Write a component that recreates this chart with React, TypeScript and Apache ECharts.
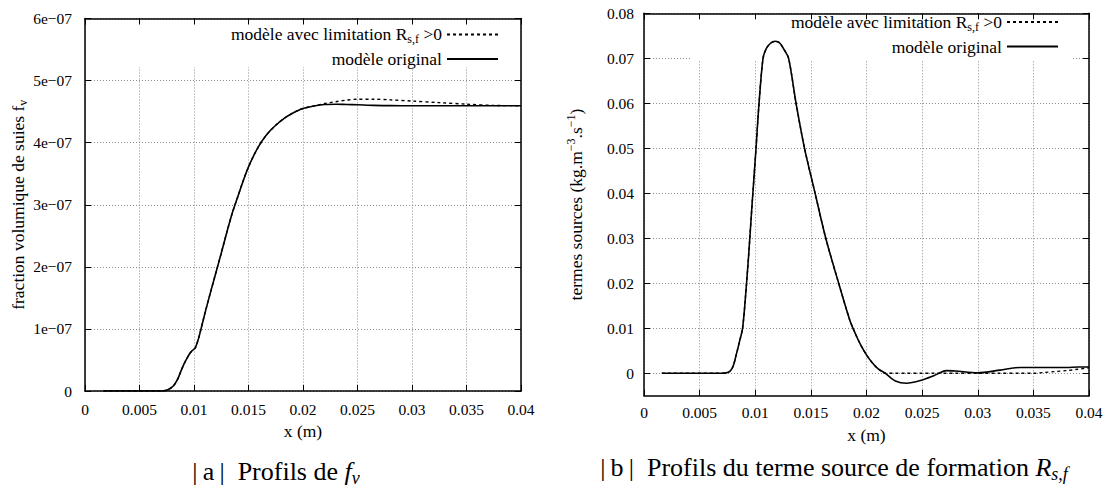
import React, { useEffect, useRef } from 'react';
import * as echarts from 'echarts';

// ---- tick labels ----
const xTicks = ['0', '0.005', '0.01', '0.015', '0.02', '0.025', '0.03', '0.035', '0.04'];
const fvTicks = ['0', '1e\u221207', '2e\u221207', '3e\u221207', '4e\u221207', '5e\u221207', '6e\u221207'];
const rsTicks = ['0', '0.01', '0.02', '0.03', '0.04', '0.05', '0.06', '0.07', '0.08'];
const rsTickValues = [0, 0.01, 0.02, 0.03, 0.04, 0.05, 0.06, 0.07, 0.08];

// ---- series names ----
const NAME_LIM = 'modèle avec limitation Rs,f >0';
const NAME_ORIG = 'modèle original';

// ---- (a) soot volume fraction f_v ----
const fvX = [0.0017, 0.004, 0.007, 0.0072, 0.0076, 0.0081, 0.0085, 0.0088, 0.0091, 0.0094, 0.0096, 0.0098, 0.0101, 0.0103, 0.0105, 0.011, 0.0115, 0.012, 0.0125, 0.013, 0.0135, 0.014, 0.0145, 0.015, 0.0155, 0.016, 0.0165, 0.017, 0.0175, 0.018, 0.0185, 0.019, 0.0195, 0.02, 0.021, 0.022, 0.023, 0.024, 0.025, 0.0265, 0.028, 0.03, 0.0325, 0.035, 0.0375, 0.04];
const fvOriginal = [0, 0, 0, 0.002e-7, 0.02e-7, 0.08e-7, 0.19e-7, 0.32e-7, 0.44e-7, 0.54e-7, 0.6e-7, 0.645e-7, 0.69e-7, 0.78e-7, 0.9e-7, 1.25e-7, 1.58e-7, 1.9e-7, 2.22e-7, 2.55e-7, 2.86e-7, 3.12e-7, 3.38e-7, 3.61e-7, 3.8e-7, 3.96e-7, 4.09e-7, 4.195e-7, 4.28e-7, 4.355e-7, 4.42e-7, 4.47e-7, 4.515e-7, 4.55e-7, 4.59e-7, 4.615e-7, 4.62e-7, 4.615e-7, 4.61e-7, 4.6e-7, 4.597e-7, 4.595e-7, 4.595e-7, 4.595e-7, 4.595e-7, 4.595e-7];
const fvLimited = [0, 0, 0, 0.002e-7, 0.02e-7, 0.08e-7, 0.19e-7, 0.32e-7, 0.44e-7, 0.54e-7, 0.6e-7, 0.645e-7, 0.69e-7, 0.78e-7, 0.9e-7, 1.25e-7, 1.58e-7, 1.9e-7, 2.22e-7, 2.55e-7, 2.86e-7, 3.12e-7, 3.38e-7, 3.61e-7, 3.8e-7, 3.96e-7, 4.09e-7, 4.195e-7, 4.28e-7, 4.355e-7, 4.42e-7, 4.47e-7, 4.515e-7, 4.55e-7, 4.59e-7, 4.63e-7, 4.66e-7, 4.685e-7, 4.7e-7, 4.7e-7, 4.69e-7, 4.67e-7, 4.645e-7, 4.62e-7, 4.6e-7, 4.595e-7];

// ---- (b) source term R_s,f ----
const rsX = [0.0016, 0.004, 0.007, 0.0074, 0.0077, 0.008, 0.0083, 0.0086, 0.00886, 0.0091, 0.0094, 0.0097, 0.01007, 0.01034, 0.0107, 0.011, 0.0114, 0.0118, 0.0122, 0.0126, 0.013, 0.01367, 0.01443, 0.01538, 0.01634, 0.0175, 0.0185, 0.019, 0.0195, 0.02, 0.0205, 0.021, 0.0217, 0.0226, 0.0236, 0.025, 0.026, 0.0272, 0.028, 0.03, 0.032, 0.0338, 0.035, 0.036, 0.037, 0.038, 0.039, 0.04];
const rsOriginal = [0, 0, 0, 0.0001, 0.0004, 0.0015, 0.0042, 0.0072, 0.01, 0.0163, 0.026, 0.037, 0.05, 0.06, 0.07, 0.0722, 0.0734, 0.0738, 0.0734, 0.0719, 0.07, 0.06, 0.05, 0.04, 0.03, 0.02, 0.0118, 0.0088, 0.0062, 0.0041, 0.0024, 0.0011, 0, -0.0017, -0.0022, -0.0015, -0.0006, 0.0006, 0.0005, 0.0001, 0.0007, 0.0013, 0.0013, 0.0013, 0.0013, 0.0013, 0.0014, 0.0014];
const rsLimited = [0, 0, 0, 0.0001, 0.0004, 0.0015, 0.0042, 0.0072, 0.01, 0.0163, 0.026, 0.037, 0.05, 0.06, 0.07, 0.0722, 0.0734, 0.0738, 0.0734, 0.0719, 0.07, 0.06, 0.05, 0.04, 0.03, 0.02, 0.0118, 0.0088, 0.0062, 0.0041, 0.0024, 0.0011, 0, 0, 0, 0, 0, 0, 0, 0, 0, 0, 0, 0.0002, 0.0004, 0.0006, 0.0009, 0.0012];

const SERIF = "'Liberation Serif', 'Times New Roman', serif";
const FS_TICK = 15.5;
const FS_TEXT = 17.5;

const tickStyle = { show: true, inside: true, length: 6, lineStyle: { color: '#000', width: 1 } };
const borderStyle = { show: true, onZero: false, lineStyle: { color: '#000', width: 1.5 } };
const gridLine = { show: true, lineStyle: { color: '#8c8c8c', width: 1, type: [1, 2] } };
const tickFont = { fontFamily: SERIF, fontSize: FS_TICK, color: '#000' };
const textFont = { fontFamily: SERIF, fontSize: FS_TEXT, color: '#000' };

function bottomX(gridIndex: number, labelMargin: number, nameGap: number) {
  return {
    type: 'value', gridIndex, position: 'bottom', min: 0, max: 0.04, interval: 0.005,
    axisLine: borderStyle, axisTick: tickStyle, splitLine: gridLine,
    axisLabel: { ...tickFont, margin: labelMargin, formatter: (v: number) => xTicks[Math.round(v / 0.005)] ?? '' },
    name: 'x (m)', nameLocation: 'middle', nameGap, nameTextStyle: { ...textFont },
  };
}
function topX(gridIndex: number) {
  return {
    type: 'value', gridIndex, position: 'top', min: 0, max: 0.04, interval: 0.005, z: 3,
    axisLine: borderStyle, axisTick: tickStyle, splitLine: { show: false }, axisLabel: { show: false },
  };
}

const legendRich = {
  sub: { fontFamily: SERIF, fontSize: 12, color: '#000', lineHeight: 12, padding: [10, 0, 0, 0] },
};
function legend(right: number, top: number) {
  return {
    orient: 'vertical', align: 'right', right, top, padding: 0,
    itemWidth: 51, itemHeight: 14, itemGap: 2.5,
    data: [NAME_LIM, NAME_ORIG],
    itemStyle: { color: 'rgba(0,0,0,0)', borderColor: 'rgba(0,0,0,0)', borderWidth: 0 },
    formatter: (n: string) => (n === NAME_LIM ? 'modèle avec limitation R{sub|s,f} >0' : n),
    textStyle: { ...textFont, lineHeight: 22, rich: legendRich },
  };
}

export default function App() {
  const ref = useRef<HTMLDivElement>(null);
  useEffect(() => {
    if (!ref.current) return;
    const chart = echarts.init(ref.current, undefined, { renderer: 'svg' });
    const pair = (xs: number[], ys: number[]) => xs.map((x, i) => [x, ys[i]]);
    const lineSeries = (name: string, xi: number, yi: number, data: number[][], dotted: boolean) => ({
      name, type: 'line', xAxisIndex: xi, yAxisIndex: yi, data, symbol: 'none', showSymbol: false, smooth: 0.3, z: 5,
      lineStyle: { color: '#000', width: dotted ? 1.4 : 1.6, type: dotted ? [3, 3] : 'solid' },
      itemStyle: { color: '#000' },
    });
    const capRich = {
      it: { fontFamily: SERIF, fontSize: 26, fontStyle: 'italic', fill: '#000' },
      itsub: { fontFamily: SERIF, fontSize: 18, fontStyle: 'italic', fill: '#000', lineHeight: 18, padding: [13, 0, 0, 0] },
    };
    chart.setOption({
      animation: false,
      backgroundColor: '#fff',
      grid: [
        { left: 85, top: 18.5, width: 436, height: 372.5 },
        { left: 644, top: 13.3, width: 445, height: 382.5 },
      ],
      xAxis: [bottomX(0, 10, 28.5), topX(0), bottomX(1, 9, 27.5), topX(1)],
      yAxis: [
        {
          type: 'value', gridIndex: 0, position: 'left', min: 0, max: 6e-7, interval: 1e-7,
          axisLine: borderStyle, axisTick: tickStyle, splitLine: gridLine,
          axisLabel: { ...tickFont, margin: 13, formatter: (v: number) => fvTicks[Math.round(v / 1e-7)] ?? '' },
          name: 'fraction volumique de suies f{sub|v}', nameLocation: 'middle', nameRotate: 90, nameGap: 58,
          nameTextStyle: { ...textFont, rich: { sub: { fontFamily: SERIF, fontSize: 12, color: '#000', lineHeight: 12, padding: [10, 0, 0, 0] } } },
        },
        {
          type: 'value', gridIndex: 0, position: 'right', min: 0, max: 6e-7, interval: 1e-7, z: 3,
          axisLine: borderStyle, axisTick: tickStyle, splitLine: { show: false }, axisLabel: { show: false },
        },
        {
          type: 'value', gridIndex: 1, position: 'left', min: -0.005, max: 0.08,
          axisLine: borderStyle,
          axisTick: { ...tickStyle, customValues: rsTickValues },
          splitLine: gridLine,
          axisLabel: { ...tickFont, margin: 10, customValues: rsTickValues, formatter: (v: number) => rsTicks[Math.round(v / 0.01)] ?? '' },
          name: 'termes sources (kg.m{sup|\u22123}.s{sup|\u22121})', nameLocation: 'middle', nameRotate: 90, nameGap: 59,
          nameTextStyle: { ...textFont, rich: { sup: { fontFamily: SERIF, fontSize: 12, color: '#000', lineHeight: 12, padding: [0, 0, 10, 0] } } },
        },
        {
          type: 'value', gridIndex: 1, position: 'right', min: -0.005, max: 0.08, z: 3,
          axisLine: borderStyle, axisTick: { ...tickStyle, customValues: rsTickValues },
          splitLine: { show: false }, axisLabel: { show: false, customValues: rsTickValues },
        },
      ],
      legend: [legend(1110 - 499, 23.4), legend(1110 - 1059, 11)],
      graphic: [
        { type: 'rect', z: 1, shape: { x: 120, y: 20, width: 390, height: 47 }, style: { fill: '#fff' } },
        { type: 'rect', z: 1, shape: { x: 692, y: 15, width: 381, height: 45 }, style: { fill: '#fff' } },
        {
          type: 'text', z: 6,
          style: {
            text: '|\u2009a\u2009|  Profils de {it|f}{itsub|v}', x: 276, y: 471, align: 'center', verticalAlign: 'middle',
            fontFamily: SERIF, fontSize: 26, fill: '#000', rich: capRich,
          },
        },
        {
          type: 'text', z: 6,
          style: {
            text: '|\u2009b\u2009|  Profils du terme source de formation {it|R}{itsub|s,f}', x: 834, y: 467, align: 'center', verticalAlign: 'middle',
            fontFamily: SERIF, fontSize: 26, fill: '#000', rich: capRich,
          },
        },
      ],
      series: [
        lineSeries(NAME_LIM, 0, 0, pair(fvX, fvLimited), true),
        lineSeries(NAME_ORIG, 0, 0, pair(fvX, fvOriginal), false),
        lineSeries(NAME_LIM, 2, 2, pair(rsX, rsLimited), true),
        lineSeries(NAME_ORIG, 2, 2, pair(rsX, rsOriginal), false),
      ],
    });
    return () => chart.dispose();
  }, []);
  return <div ref={ref} style={{ position: 'absolute', left: 0, top: 0, width: 1110, height: 488 }} />;
}
